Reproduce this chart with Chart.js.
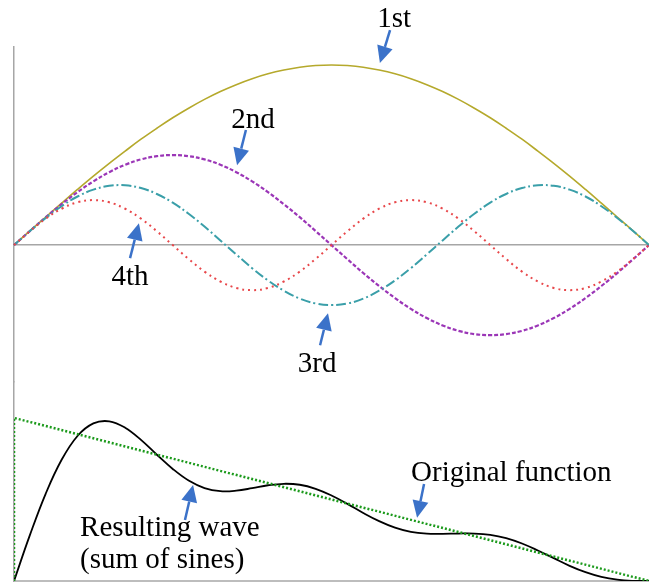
<!DOCTYPE html>
<html>
<head>
<meta charset="utf-8">
<script src="https://cdn.jsdelivr.net/npm/chart.js@4.4.0/dist/chart.umd.min.js"></script>
<style>
  html, body { margin: 0; padding: 0; background: #fff; }
  #wrap { position: relative; width: 649px; height: 582px; }
  #wrap canvas { position: absolute; left: 0; top: 0; }
</style>
</head>
<body>
<div id="wrap">
  <canvas id="top" width="649" height="582"></canvas>
  <canvas id="bottom" width="649" height="582"></canvas>
</div>
<script>
// x positions, 0..40 across one half period
var xs = [];
for (var i = 0; i <= 40; i++) xs.push(i);

// top panel: the four harmonics
var first  = [0, .079, .156, .233, .309, .383, .454, .522, .588, .649, .707, .760, .809, .853, .891, .924, .951, .972, .988, .997, 1,
              .997, .988, .972, .951, .924, .891, .853, .809, .760, .707, .649, .588, .522, .454, .383, .309, .233, .156, .079, 0];
var second = [0, .078, .155, .227, .294, .354, .405, .446, .476, .494, .5, .494, .476, .446, .405, .354, .294, .227, .155, .078, 0,
              -.078, -.155, -.227, -.294, -.354, -.405, -.446, -.476, -.494, -.5, -.494, -.476, -.446, -.405, -.354, -.294, -.227, -.155, -.078, 0];
var third  = [0, .078, .151, .216, .270, .308, .329, .332, .317, .284, .236, .174, .103, .026, -.052, -.128, -.196, -.253, -.297, -.324, -.333,
              -.324, -.297, -.253, -.196, -.128, -.052, .026, .103, .174, .236, .284, .317, .332, .329, .308, .270, .216, .151, .078, 0];
var fourth = [0, .077, .147, .202, .238, .25, .238, .202, .147, .077, 0, -.077, -.147, -.202, -.238, -.25, -.238, -.202, -.147, -.077, 0,
              .077, .147, .202, .238, .25, .238, .202, .147, .077, 0, -.077, -.147, -.202, -.238, -.25, -.238, -.202, -.147, -.077, 0];

// bottom panel: resulting wave and the original function
var resulting = [0, .281, .536, .743, .889, .966, .979, .940, .865, .774, .687, .616, .570, .551, .554, .569, .587, .596, .590, .565, .524,
                 .473, .417, .367, .327, .301, .290, .289, .291, .291, .283, .263, .230, .187, .140, .093, .054, .025, .008, .001, 0];
var originalX = [0, 0, 40];
var originalY = [0, 1, 0];

// labels and arrows, in data units of each panel
var topNotes = [
  { text: '1st', x: 23.94, y: 1.211, align: 'center', from: [23.69, 1.194], to: [23.05, 1.011] },
  { text: '2nd', x: 15.06, y: 0.65,  align: 'center', from: [14.61, 0.639], to: [14.05, 0.444] },
  { text: '4th', x: 7.31,  y: -0.222, align: 'center', from: [7.31, -0.072], to: [7.87, 0.122] },
  { text: '3rd', x: 19.09, y: -0.706, align: 'center', from: [19.28, -0.556], to: [19.78, -0.378] }
];
var bottomNotes = [
  { text: 'Resulting wave', x: 4.16, y: 0.276, align: 'left', from: [10.77, 0.374], to: [11.28, 0.589] },
  { text: '(sum of sines)', x: 4.16, y: 0.08, align: 'left' },
  { text: 'Original function', x: 25.01, y: 0.613, align: 'left', from: [25.83, 0.595], to: [25.39, 0.387] }
];

Chart.defaults.animation = false;
Chart.defaults.responsive = false;

function notesPlugin(notes) {
  return {
    id: 'notes',
    afterDraw: function (chart) {
      var c = chart.ctx, sx = chart.scales.x, sy = chart.scales.y;
      c.save();
      notes.forEach(function (n) {
        c.font = '29px "Liberation Serif", "Times New Roman", serif';
        c.fillStyle = '#000';
        c.textAlign = n.align;
        c.textBaseline = 'alphabetic';
        c.fillText(n.text, sx.getPixelForValue(n.x), sy.getPixelForValue(n.y));
        if (!n.from) return;
        var x1 = sx.getPixelForValue(n.from[0]), y1 = sy.getPixelForValue(n.from[1]);
        var x2 = sx.getPixelForValue(n.to[0]), y2 = sy.getPixelForValue(n.to[1]);
        var a = Math.atan2(y2 - y1, x2 - x1);
        var hl = 17, hw = 8;
        var bx = x2 - hl * Math.cos(a), by = y2 - hl * Math.sin(a);
        c.strokeStyle = '#3b72c9';
        c.fillStyle = '#3b72c9';
        c.lineWidth = 2.5;
        c.beginPath();
        c.moveTo(x1, y1);
        c.lineTo(bx, by);
        c.stroke();
        c.beginPath();
        c.moveTo(x2, y2);
        c.lineTo(bx + hw * Math.sin(a), by - hw * Math.cos(a));
        c.lineTo(bx - hw * Math.sin(a), by + hw * Math.cos(a));
        c.closePath();
        c.fill();
      });
      c.restore();
    }
  };
}

function line(label, data, color, width, dash) {
  return {
    label: label,
    data: data,
    borderColor: color,
    borderWidth: width,
    borderDash: dash || [],
    pointRadius: 0,
    tension: 0.4,
    fill: false
  };
}

new Chart(document.getElementById('top'), {
  type: 'line',
  data: {
    labels: xs,
    datasets: [
      line('4th', fourth, '#e8474a', 2, [2, 4]),
      line('3rd', third, '#3a9fa9', 2, [10, 3, 2, 3]),
      line('2nd', second, '#9b36b7', 2.2, [4, 2]),
      line('1st', first, '#b5a92c', 1.6)
    ]
  },
  options: {
    layout: { padding: { left: 14, top: 47, right: 0, bottom: 200 } },
    plugins: { legend: { display: false }, tooltip: { enabled: false } },
    scales: {
      x: { display: false },
      y: {
        min: -0.76, max: 1.1,
        afterFit: function (s) { s.width = 0; },
        ticks: { display: false },
        grid: {
          drawTicks: false,
          lineWidth: 1.5,
          color: function (ctx) { return ctx.tick && ctx.tick.value === 0 ? '#a6a6a6' : 'rgba(0,0,0,0)'; }
        },
        border: { display: true, color: '#a6a6a6', width: 1.5 }
      }
    }
  },
  plugins: [notesPlugin(topNotes)]
});

var origPts = originalX.map(function (x, i) { return { x: x, y: originalY[i] }; });
var resPts = xs.map(function (x, i) { return { x: x, y: resulting[i] }; });

new Chart(document.getElementById('bottom'), {
  type: 'line',
  data: {
    datasets: [
      Object.assign(line('Original function', origPts, '#1c9a1c', 2.5, [2, 2]), { tension: 0 }),
      line('Resulting wave', resPts, '#000000', 1.8)
    ]
  },
  options: {
    layout: { padding: { left: 14, top: 382, right: 0, bottom: 0 } },
    plugins: { legend: { display: false }, tooltip: { enabled: false } },
    scales: {
      x: {
        type: 'linear', min: 0, max: 40,
        afterFit: function (s) { s.height = 1; },
        ticks: { display: false },
        grid: { display: false },
        border: { display: true, color: '#bdbdbd', width: 2 }
      },
      y: {
        min: 0, max: 1.22,
        afterFit: function (s) { s.width = 0; },
        ticks: { display: false },
        grid: { display: false },
        border: { display: true, color: '#a6a6a6', width: 1.5 }
      }
    }
  },
  plugins: [notesPlugin(bottomNotes)]
});
</script>
</body>
</html>
